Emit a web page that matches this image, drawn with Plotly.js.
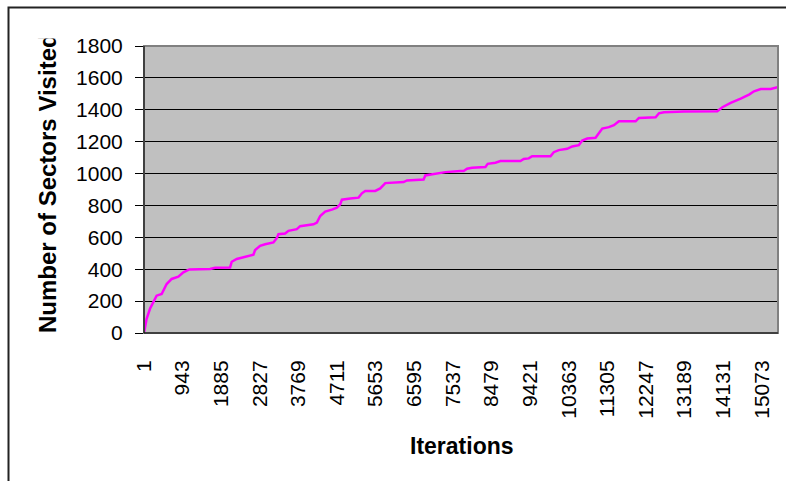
<!DOCTYPE html>
<html>
<head>
<meta charset="utf-8">
<script src="https://cdn.plot.ly/plotly-3.0.1.min.js"></script>
<style>html,body{margin:0;padding:0;background:#fff;}#chart{width:786px;height:481px;}</style>
</head>
<body>
<div id="chart"></div>
<script>
// Iteration (x) and number of sectors visited (y)
const iterations = [1,65,147,228,309,432,472,554,676,839,961,1107,1612,1735,2101,2142,2264,2345,2508,2671,2712,2834,2956,3159,3241,3281,3444,3526,3730,3811,4137,4219,4300,4422,4585,4707,4788,4829,5033,5236,5317,5399,5643,5765,5888,6335,6417,6823,6864,7068,7353,7720,7801,7883,8005,8331,8387,8575,8697,9186,9266,9388,9471,9919,9999,10121,10326,10449,10610,10693,10815,11018,11100,11182,11343,11466,11588,11996,12077,12484,12565,12687,13175,13989,14113,14316,14560,14763,14885,15049,15293,15456];
const sectorsVisited = [0,89,152,193,234,245,266,307,339,353,380,399,401,409,411,447,464,470,478,491,520,547,557,568,595,620,624,641,651,670,682,693,734,761,774,786,807,836,843,849,876,891,891,907,940,947,957,963,988,998,1009,1016,1016,1030,1036,1041,1061,1068,1078,1078,1091,1095,1109,1109,1134,1147,1155,1170,1178,1207,1220,1224,1255,1282,1291,1303,1328,1328,1349,1353,1378,1384,1389,1391,1416,1443,1470,1495,1516,1530,1530,1541];
const xTickValues = [1,943,1885,2827,3769,4711,5653,6595,7537,8479,9421,10363,11305,12247,13189,14131,15073];
const xTickLabels = ["1","943","1885","2827","3769","4711","5653","6595","7537","8479","9421","10363","11305","12247","13189","14131","15073"];
const yTickValues = [0,200,400,600,800,1000,1200,1400,1600,1800];
const xTitle = "Iterations";
const yTitle = "Number of Sectors Visited";

const W = 786, H = 481, L = 144, R = 8, T = 46, B = 148;
const pw = W - L - R, ph = H - T - B;
const px = x => (x - L) / pw;
const py = y => (H - B - y) / ph;

const font = "Liberation Sans, Arial, sans-serif";

const trace = {
  x: iterations, y: sectorsVisited, type: "scatter", mode: "lines",
  line: {color: "#FF00FF", width: 2.5}, hoverinfo: "skip"
};

const layout = {
  width: W, height: H,
  margin: {l: L, r: R, t: T, b: B, pad: 0},
  paper_bgcolor: "#ffffff",
  plot_bgcolor: "#C0C0C0",
  showlegend: false,
  font: {family: font, color: "#000", size: 21},
  xaxis: {
    range: [1, 15470], tickmode: "array", tickvals: xTickValues, ticktext: xTickLabels,
    tickangle: -90, ticks: "", showgrid: false, zeroline: false,
    showline: true, linecolor: "#000", linewidth: 1,
    tickfont: {family: font, size: 21, color: "#000"},
    ticklabelstandoff: 18, automargin: false, fixedrange: true
  },
  yaxis: {
    range: [0, 1800], tickmode: "array", tickvals: yTickValues,
    ticks: "outside", ticklen: 8, tickcolor: "#000", tickwidth: 1,
    showgrid: true, gridcolor: "#000", gridwidth: 1, zeroline: false,
    showline: true, linecolor: "#000", linewidth: 1,
    tickfont: {family: font, size: 21, color: "#000"},
    ticklabelstandoff: 8, automargin: false, fixedrange: true
  },
  shapes: [
    {type: "rect", xref: "paper", yref: "paper", x0: 0, x1: 1, y0: 0, y1: 1,
     line: {color: "#808080", width: 2}, fillcolor: "rgba(0,0,0,0)", layer: "above"},
    {type: "line", xref: "paper", yref: "paper", x0: 0, x1: 0, y0: 0, y1: 1,
     line: {color: "#000", width: 1}, layer: "above"},
    {type: "line", xref: "paper", yref: "paper", x0: 0, x1: 1, y0: 0, y1: 0,
     line: {color: "#000", width: 1}, layer: "above"},
    {type: "rect", xref: "paper", yref: "paper", x0: px(8.5), x1: px(800), y0: py(7.5), y1: py(500),
     line: {color: "#222", width: 2}, fillcolor: "rgba(0,0,0,0)", layer: "above"}
  ],
  annotations: [
    {text: "<b>" + xTitle + "</b>", xref: "paper", yref: "paper", x: px(462), y: py(431),
     xanchor: "center", yanchor: "top", showarrow: false, font: {family: font, size: 23, color: "#000"}},
    {text: "<b>" + yTitle + "</b>", xref: "paper", yref: "paper", x: px(47), y: py(333 - 150),
     xanchor: "center", yanchor: "middle", textangle: -90, showarrow: false,
     font: {family: font, size: 24, color: "#000"}},
    {text: " ", xref: "paper", yref: "paper", x: px(47), y: py(9), xanchor: "center", yanchor: "top",
     width: 34, height: 28, bgcolor: "#ffffff", showarrow: false, borderpad: 0}
  ]
};

Plotly.newPlot("chart", [trace], layout, {displayModeBar: false, staticPlot: true});
</script>
</body>
</html>
